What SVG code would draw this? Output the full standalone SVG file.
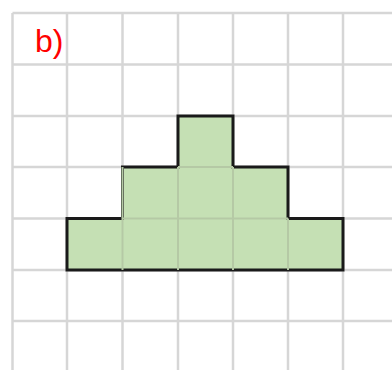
<svg xmlns="http://www.w3.org/2000/svg" width="392" height="370" viewBox="0 0 392 370">
<style>
.g{stroke:#d6d6d6;stroke-width:2.5;fill:none}
.shape{fill:#c5e0b4;stroke:#1a1a1a;stroke-width:3;stroke-linejoin:miter}
.lbl{font-family:"Liberation Sans",Arial,sans-serif;font-size:32px;fill:#ff0000}
</style>
<rect width="392" height="370" fill="#ffffff"/>
<g id="grid">
<path class="g" d="M12.5 13V370M67 13V370M122.5 13V370M178 13V370M233 13V370M288 13V370M343 13V370"/>
<path class="g" d="M12.5 13H392M12.5 64.5H392M12.5 116H392M12.5 167H392M12.5 218.5H392M12.5 270H392M12.5 321H392"/>
</g>
<g id="shape">
<path class="shape" d="M67 218.5H122.5V167H178V116H233V167H288V218.5H343V270H67Z"/>
<path d="M122.5 167V270M178 167V270M233 167V270M288 218.5V270M122.5 218.5H288M178 167H233" stroke="#b5c9a5" stroke-width="2" fill="none"/>
</g>
<g id="label">
<text class="lbl" x="35" y="52">b)</text>
</g>
</svg>
